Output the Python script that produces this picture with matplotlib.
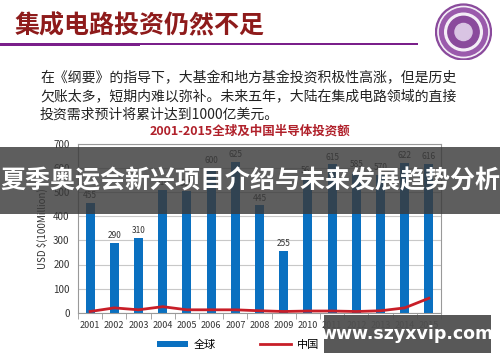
import matplotlib
matplotlib.use("Agg")
import matplotlib.pyplot as plt
from matplotlib.patches import Rectangle, Circle
import numpy as np

plt.rcParams['font.family'] = ['Noto Sans CJK SC', 'DejaVu Sans']

# 数据
years = ['2001', '2002', '2003', '2004', '2005', '2006', '2007', '2008',
         '2009', '2010', '2011', '2012', '2013', '2014', '2015']
global_inv = [455, 290, 310, 510, 505, 600, 625, 445, 255, 560, 615, 585, 570, 622, 616]
china_inv = [5, 20, 12, 25, 12, 12, 12, 8, 5, 7, 7, 5, 8, 20, 60]
bar_labels = ['455', '290', '310', '510', '505', '600', '625', '445',
              '255', '560', '615', '585', '570', '622', '616']

slide_title = '集成电路投资仍然不足'
paragraph = ['在《纲要》的指导下，大基金和地方基金投资积极性高涨，但是历史',
             '欠账太多，短期内难以弥补。未来五年，大陆在集成电路领域的直接',
             '投资需求预计将累计达到1000亿美元。']
chart_title = '2001-2015全球及中国半导体投资额'
banner = '夏季奥运会新兴项目介绍与未来发展趋势分析'
watermark = 'www.szyxvip.com'

W, H = 500, 362
fig = plt.figure(figsize=(5, 3.62), dpi=100)

def fy(y):
    return 1 - y / H

# 幻灯片标题
fig.text(15 / W, fy(26), slide_title, fontsize=18, fontweight='bold',
         color='#8e1b1b', va='center', ha='left')
fig.add_artist(Rectangle((0, fy(46)), 140 / W, 3 / H, transform=fig.transFigure,
                         color='#7a1f8a', lw=0))
fig.add_artist(Rectangle((140 / W, fy(44.5)), 278 / W, 1 / H, transform=fig.transFigure,
                         color='#7a1f8a', lw=0))

# 校徽(简化)
ax_logo = fig.add_axes([435 / W, fy(61), 57 / W, 58 / H])
ax_logo.set_xlim(-1, 1)
ax_logo.set_ylim(-1, 1)
ax_logo.set_aspect('equal')
ax_logo.axis('off')
ax_logo.add_patch(Circle((0, 0), 0.98, color='#8a4a9c'))
ax_logo.add_patch(Circle((0, 0), 0.90, color='#f4eef7'))
ax_logo.add_patch(Circle((0, 0), 0.84, color='#9a5aac'))
ax_logo.add_patch(Circle((0, 0), 0.66, color='#f4eef7'))
ax_logo.add_patch(Circle((0, 0), 0.55, color='#8a4a9c'))
ax_logo.add_patch(Circle((0, 0), 0.30, color='#d9c4e3'))

# 正文
for i, line in enumerate(paragraph):
    fig.text(40 / W, fy(78 + i * 18.5), line, fontsize=10, color='#222222',
             va='center', ha='left')

# 图表标题
fig.text(250 / W, fy(131), chart_title, fontsize=9, fontweight='bold',
         color='#b0202a', va='center', ha='center')

# 柱状图
ax = fig.add_axes([78 / W, fy(312.7), 363 / W, 168.7 / H])
x = np.arange(len(years))
bars = ax.bar(x, global_inv, width=0.38, color='#0a70c0', label='全球', zorder=2)
line, = ax.plot(x, china_inv, color='#c81e28', lw=2, label='中国', zorder=3,
                solid_joinstyle='round')
for xi, v, lab in zip(x, global_inv, bar_labels):
    ax.text(xi, v + 12, lab, ha='center', va='bottom', fontsize=6, color='#333333')

ax.set_xlim(-0.5, len(years) - 0.5)
ax.set_ylim(0, 700)
ax.set_yticks(range(0, 701, 100))
ax.set_xticks(x)
ax.set_xticklabels(years, fontsize=6.5, color='#333333')
ax.set_xticks(np.arange(-0.5, len(years), 1), minor=True)
ax.tick_params(axis='x', which='major', length=0, pad=6)
ax.tick_params(axis='x', which='minor', length=4, color='#999999')
ax.tick_params(axis='y', length=0, labelsize=7, colors='#333333', pad=6)
ax.grid(axis='y', color='#c8c8c8', lw=0.8, zorder=0)
for s in ax.spines.values():
    s.set_color('#999999')
    s.set_linewidth(0.8)
ax.set_ylabel('USD $(100Million)', fontsize=7, color='#333333', labelpad=4)
ax.legend([bars, line], ['全球', '中国'], loc='upper center',
          bbox_to_anchor=(0.44, -0.1), ncol=2, frameon=False,
          fontsize=8, handlelength=2.8, columnspacing=4, handleheight=0.5,
          handletextpad=0.5)

# 横幅
fig.add_artist(Rectangle((0, fy(214)), 1, 67 / H, transform=fig.transFigure,
                         color='#3a3a3a', alpha=0.82, lw=0, zorder=10))
fig.text(0.5, fy(181), banner, fontsize=18, fontweight='bold', color='white',
         ha='center', va='center', zorder=11)

# 水印
fig.add_artist(Rectangle((324 / W, fy(353)), 167 / W, 38 / H, transform=fig.transFigure,
                         color='#4f4f4f', alpha=0.95, lw=0, zorder=10))
fig.text(407 / W, fy(334), watermark, fontsize=12.5, fontweight='bold', color='white',
         ha='center', va='center', zorder=11, family=['DejaVu Sans'])

fig.savefig('out.png', dpi=100)
